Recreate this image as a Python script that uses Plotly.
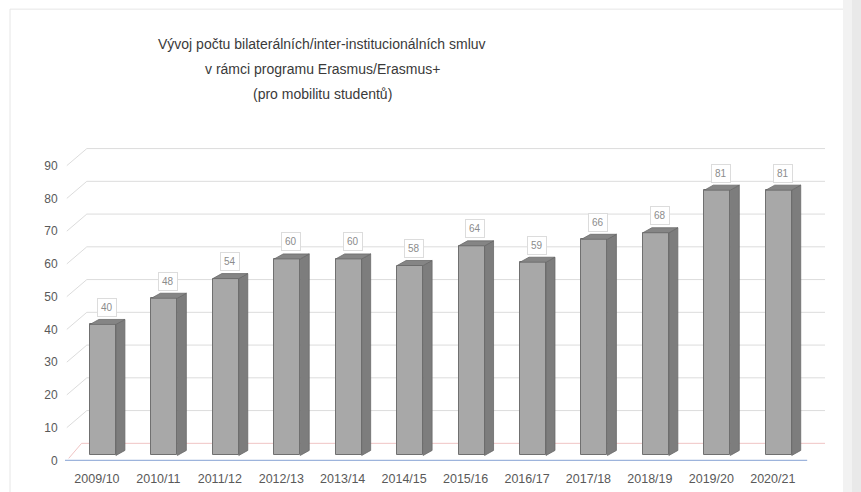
import plotly.graph_objects as go

# ---- data ----
years = ["2009/10", "2010/11", "2011/12", "2012/13", "2013/14", "2014/15",
         "2015/16", "2016/17", "2017/18", "2018/19", "2019/20", "2020/21"]
agreements = [40, 48, 54, 60, 60, 58, 64, 59, 66, 68, 81, 81]
y_ticks = [0, 10, 20, 30, 40, 50, 60, 70, 80, 90]
title_lines = ["Vývoj počtu bilaterálních/inter-institucionálních smluv",
               "v rámci programu Erasmus/Erasmus+",
               "(pro mobilitu studentů)"]

# ---- pseudo-3D geometry (data units) ----
X0, X1 = -0.52, 11.85          # x range
Y0, Y1 = -0.5, 96.6            # y range
BACK_DY = 5.2                  # depth of back wall
BASE = 1.5                     # bar base (sits inside the floor)
BAR_L, BAR_W = -0.114, 0.423   # front face offset and width
SIDE_DX, SIDE_DY = 0.146, 1.53 # bar depth

idx = list(range(len(years)))
fig = go.Figure()

shapes = []
# back-wall gridlines with diagonal from front axis (drawn below the bars)
for v in y_ticks[1:]:
    shapes.append(dict(type="path", xref="x", yref="y", layer="below",
                       path=f"M -0.49 {v} L -0.165 {v + BACK_DY} L {X1} {v + BACK_DY}",
                       line=dict(color="#DCDCDC", width=1)))
# floor back edge (pinkish) and front axis line (blue)
shapes.append(dict(type="path", xref="x", yref="y", layer="below",
                   path=f"M -0.46 0.6 L -0.25 {BACK_DY} L {X1} {BACK_DY}",
                   line=dict(color="#F0C4C4", width=1)))
shapes.append(dict(type="line", xref="x", yref="y", layer="below",
                   x0=X0, x1=11.56, y0=0, y1=0, line=dict(color="#9DB4DC", width=1.2)))

# side faces
sx, sy = [], []
for i, v in zip(idx, agreements):
    xr = i + BAR_L + BAR_W
    sx += [xr, xr + SIDE_DX, xr + SIDE_DX, xr, xr, None]
    sy += [BASE, BASE + SIDE_DY, BASE + v + SIDE_DY, BASE + v, BASE, None]
fig.add_trace(go.Scatter(x=sx, y=sy, mode="lines", fill="toself", fillcolor="#7D7D7D",
                         line=dict(color="#6A6A6A", width=0.8), hoverinfo="skip",
                         showlegend=False))
# top faces
tx, ty = [], []
for i, v in zip(idx, agreements):
    xl = i + BAR_L
    xr = xl + BAR_W
    top = BASE + v
    tx += [xl, xr, xr + SIDE_DX, xl + SIDE_DX, xl, None]
    ty += [top, top, top + SIDE_DY, top + SIDE_DY, top, None]
fig.add_trace(go.Scatter(x=tx, y=ty, mode="lines", fill="toself", fillcolor="#858585",
                         line=dict(color="#6A6A6A", width=0.8), hoverinfo="skip",
                         showlegend=False))
# front faces
fig.add_trace(go.Bar(x=idx, y=agreements, base=BASE, width=BAR_W, offset=BAR_L,
                     marker=dict(color="#A8A8A8", line=dict(color="#707070", width=1)),
                     showlegend=False))

# data labels
for i, v in zip(idx, agreements):
    fig.add_annotation(x=i + 0.16, y=BASE + v, yshift=17, text=str(v), showarrow=False,
                       font=dict(family="Liberation Sans, Arial, sans-serif", size=10,
                                 color="#8C8C8C"),
                       bgcolor="#FFFFFF", bordercolor="#DCDCDC", borderwidth=1, borderpad=3)

# title
for line, ypx in zip(title_lines, [45, 69, 94]):
    fig.add_annotation(xref="paper", yref="paper", x=(322 - 65) / 760,
                       y=(460 - ypx) / 316, text=line, showarrow=False,
                       xanchor="center", yanchor="middle",
                       font=dict(family="Liberation Sans, Arial, sans-serif",
                                 size=14, color="#3A3A3A"))

# frame / background decoration
shapes += [
    dict(type="rect", xref="paper", yref="paper", x0=(843 - 65) / 760, x1=(852 - 65) / 760,
         y0=-0.2, y1=1.5, fillcolor="#F2F2F2", line=dict(width=0), layer="below"),
    dict(type="rect", xref="paper", yref="paper", x0=(852 - 65) / 760, x1=(861 - 65) / 760,
         y0=-0.2, y1=1.5, fillcolor="#E9E9E9", line=dict(width=0), layer="below"),
    dict(type="line", xref="paper", yref="paper", x0=(10 - 65) / 760, x1=(10 - 65) / 760,
         y0=-0.2, y1=(460 - 10) / 316, line=dict(color="#E6E6E6", width=1), layer="below"),
    dict(type="line", xref="paper", yref="paper", x0=(10 - 65) / 760, x1=(843 - 65) / 760,
         y0=(460 - 10) / 316, y1=(460 - 10) / 316, line=dict(color="#E6E6E6", width=1),
         layer="below"),
]

fig.update_layout(
    width=861, height=492,
    margin=dict(l=65, r=36, t=144, b=30),
    paper_bgcolor="#FFFFFF", plot_bgcolor="rgba(0,0,0,0)",
    shapes=shapes,
    xaxis=dict(range=[X0, X1], tickvals=idx, ticktext=years, showgrid=False,
               zeroline=False, showline=False, ticks="outside", ticklen=5,
               tickcolor="rgba(0,0,0,0)", automargin=False,
               tickfont=dict(family="Liberation Sans, Arial, sans-serif", size=12.5,
                             color="#595959")),
    yaxis=dict(range=[Y0, Y1], tickvals=y_ticks, showgrid=False, zeroline=False,
               showline=False, ticks="outside", ticklen=4, tickcolor="rgba(0,0,0,0)",
               automargin=False,
               tickfont=dict(family="Liberation Sans, Arial, sans-serif", size=12,
                             color="#595959")),
    bargap=0,
)

fig.write_html("out.html", config={"displayModeBar": False},
               post_script="document.body.style.margin='0px';")
